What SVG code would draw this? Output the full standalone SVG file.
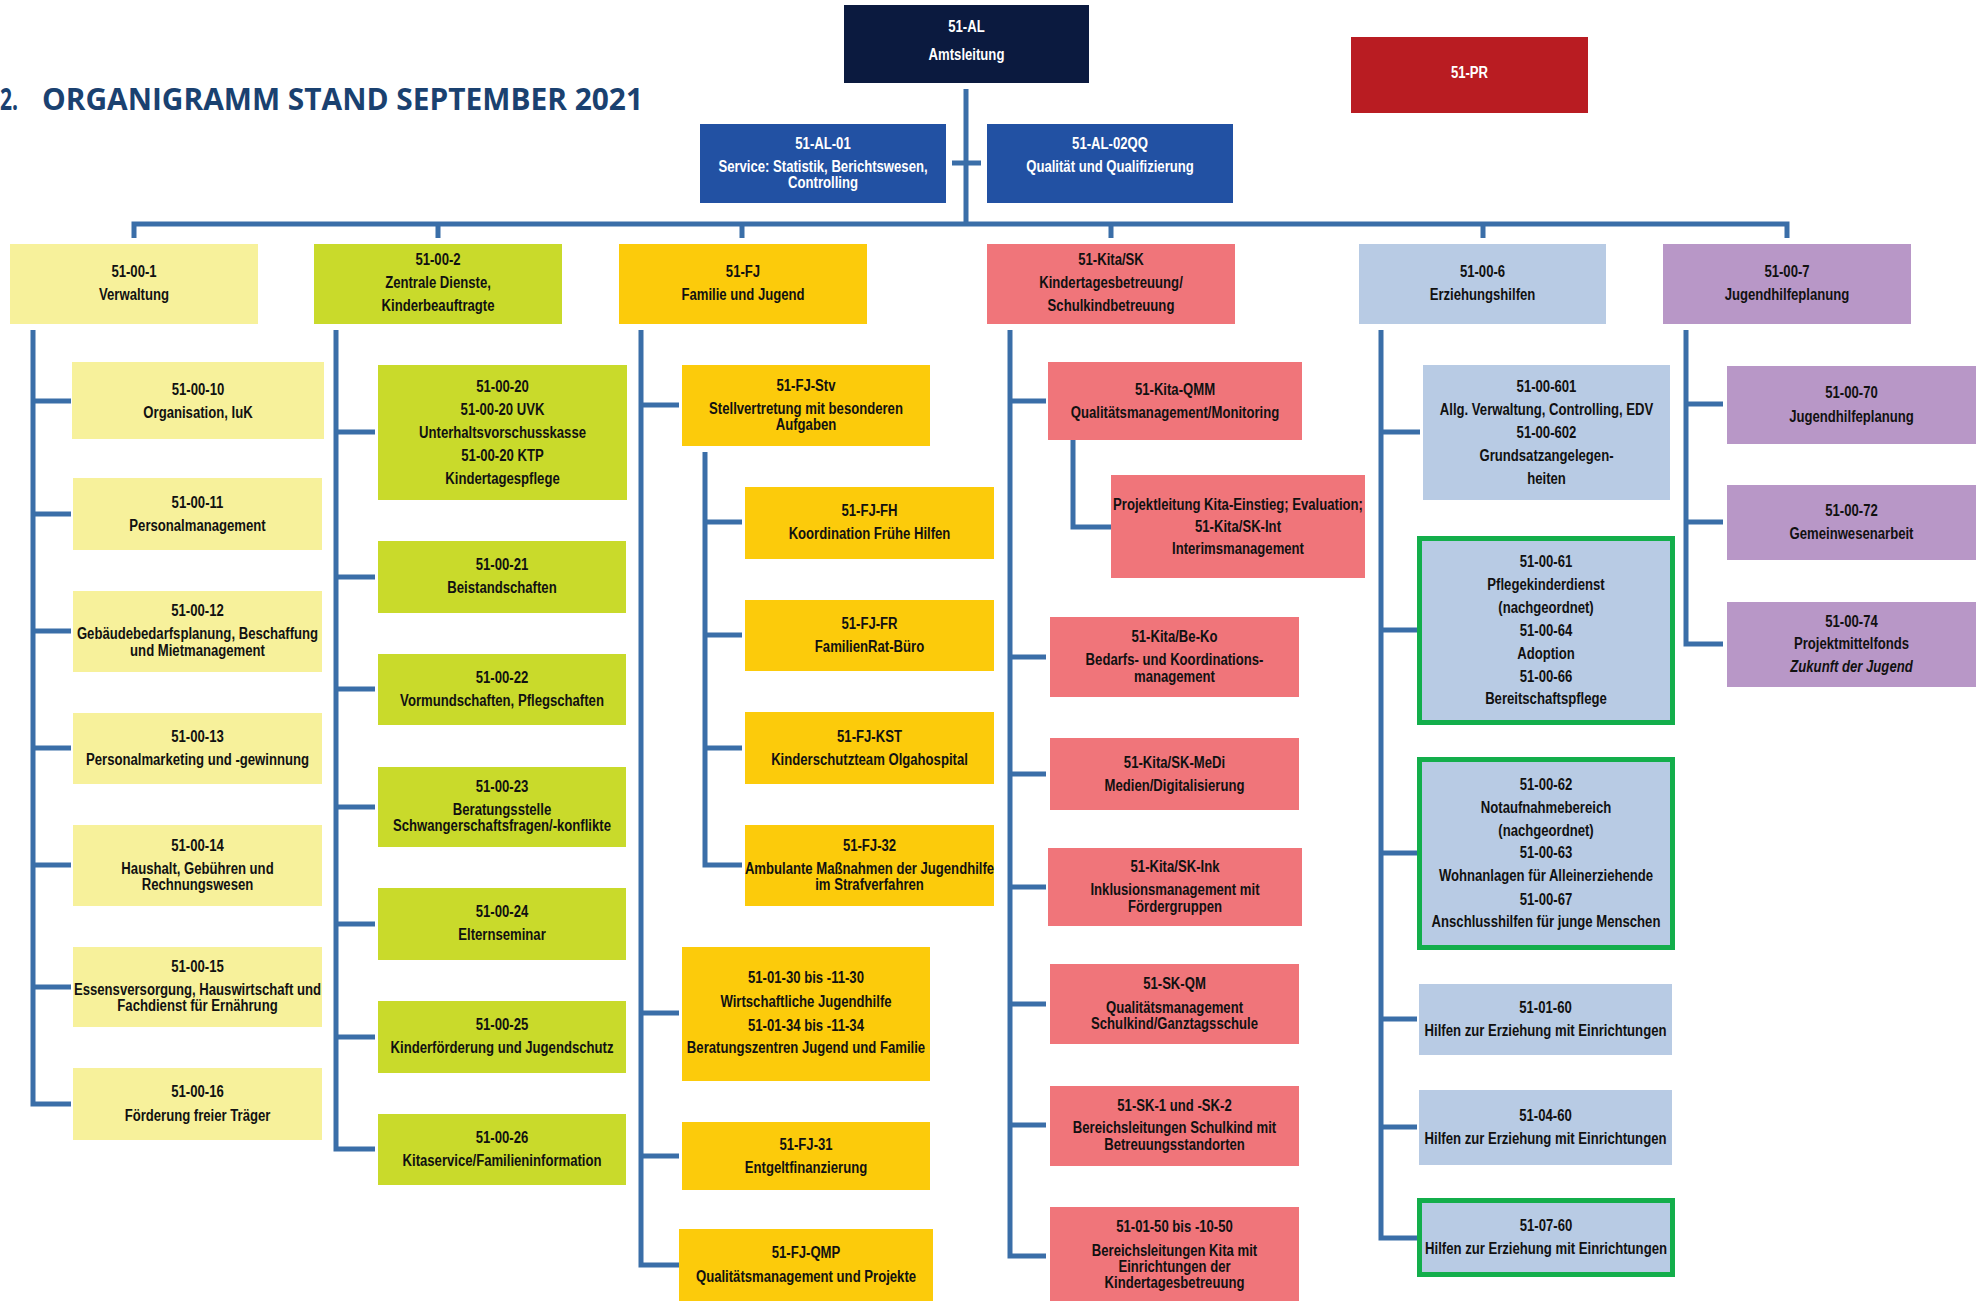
<svg xmlns="http://www.w3.org/2000/svg" width="1979" height="1301" viewBox="0 0 1979 1301">
<style>
.t{font-family:"Liberation Sans",Arial,sans-serif;font-weight:bold;font-size:16px;text-anchor:middle;fill:#111}
.w{fill:#fff}
.i{font-style:italic}
.con{fill:none;stroke:#3A6EA8;stroke-width:5}
.al{fill:#0B1A3F}
.blu{fill:#2251A3}
.pr{fill:#B91C22}
.ly{fill:#F7F19B}
.lm{fill:#C9DA2B}
.gd{fill:#FCCB0B}
.pk{fill:#F0757A}
.lb{fill:#B8CBE4}
.pu{fill:#B897C7}
.gr{fill:#B8CBE4;stroke:#13AE4B;stroke-width:5}
.title{font-family:"Open Sans","Liberation Sans",sans-serif;font-weight:bold;font-size:30px;fill:#1A4170}
</style>
<rect width="1979" height="1301" fill="#fff"/>
<text class="title" x="0" y="110" textLength="18" lengthAdjust="spacingAndGlyphs">2.</text>
<text class="title" x="42" y="110" textLength="601" lengthAdjust="spacingAndGlyphs">ORGANIGRAMM STAND SEPTEMBER 2021</text>

<g id="connectors">
<path class="con" d="M966,89V224M134,238V224H1787V238M438,224V238M742,224V238M1111,224V238M1483,224V238M952,163H981"/>
<path class="con" d="M33,330V1104H71M33,401H71M33,514H71M33,631H71M33,748H71M33,865H71M33,987H71"/>
<path class="con" d="M336,330V1149H375M336,432H375M336,577H375M336,689H375M336,807H375M336,924H375M336,1037H375"/>
<path class="con" d="M641,330V1265H679M641,405H679M641,1013H679M641,1156H679M705,452V865H742M705,522H742M705,635H742M705,748H742"/>
<path class="con" d="M1010,330V1256H1046M1010,401H1046M1010,657H1046M1010,774H1046M1010,887H1046M1010,1004H1046M1010,1125H1046M1073,440V527H1111"/>
<path class="con" d="M1381,330V1238H1417M1381,432H1420M1381,630H1417M1381,853H1417M1381,1019H1417M1381,1127H1417"/>
<path class="con" d="M1686,330V644H1723M1686,404H1723M1686,522H1723"/>
</g>

<g id="n-51-AL"><rect class="al" x="844" y="5" width="245" height="78"/>
<text class="t w" transform="matrix(0.82 0 0 1 966.5 0)"><tspan x="0" y="32">51-AL</tspan><tspan x="0" y="60">Amtsleitung</tspan></text></g>

<g id="n-51-PR"><rect class="pr" x="1351" y="37" width="237" height="76"/>
<text class="t w" transform="matrix(0.82 0 0 1 1469.5 0)"><tspan x="0" y="78">51-PR</tspan></text></g>

<g id="n-51-AL-01"><rect class="blu" x="700" y="124" width="246" height="79"/>
<text class="t w" transform="matrix(0.82 0 0 1 823 0)"><tspan x="0" y="149">51-AL-01</tspan><tspan x="0" y="172">Service: Statistik, Berichtswesen,</tspan><tspan x="0" y="188">Controlling</tspan></text></g>

<g id="n-51-AL-02QQ"><rect class="blu" x="987" y="124" width="246" height="79"/>
<text class="t w" transform="matrix(0.82 0 0 1 1110 0)"><tspan x="0" y="149">51-AL-02QQ</tspan><tspan x="0" y="172">Qualität und Qualifizierung</tspan></text></g>

<g id="n-51-00-1"><rect class="ly" x="10" y="244" width="248" height="80"/>
<text class="t" transform="matrix(0.82 0 0 1 134 0)"><tspan x="0" y="277">51-00-1</tspan><tspan x="0" y="300">Verwaltung</tspan></text></g>

<g id="n-51-00-2"><rect class="lm" x="314" y="244" width="248" height="80"/>
<text class="t" transform="matrix(0.82 0 0 1 438 0)"><tspan x="0" y="265">51-00-2</tspan><tspan x="0" y="288">Zentrale Dienste,</tspan><tspan x="0" y="311">Kinderbeauftragte</tspan></text></g>

<g id="n-51-FJ"><rect class="gd" x="619" y="244" width="248" height="80"/>
<text class="t" transform="matrix(0.82 0 0 1 743 0)"><tspan x="0" y="277">51-FJ</tspan><tspan x="0" y="300">Familie und Jugend</tspan></text></g>

<g id="n-51-Kita-SK"><rect class="pk" x="987" y="244" width="248" height="80"/>
<text class="t" transform="matrix(0.82 0 0 1 1111 0)"><tspan x="0" y="265">51-Kita/SK</tspan><tspan x="0" y="288">Kindertagesbetreuung/</tspan><tspan x="0" y="311">Schulkindbetreuung</tspan></text></g>

<g id="n-51-00-6"><rect class="lb" x="1359" y="244" width="247" height="80"/>
<text class="t" transform="matrix(0.82 0 0 1 1482.5 0)"><tspan x="0" y="277">51-00-6</tspan><tspan x="0" y="300">Erziehungshilfen</tspan></text></g>

<g id="n-51-00-7"><rect class="pu" x="1663" y="244" width="248" height="80"/>
<text class="t" transform="matrix(0.82 0 0 1 1787 0)"><tspan x="0" y="277">51-00-7</tspan><tspan x="0" y="300">Jugendhilfeplanung</tspan></text></g>

<!-- column 1 -->
<g id="n-51-00-10"><rect class="ly" x="72" y="362" width="252" height="77"/>
<text class="t" transform="matrix(0.82 0 0 1 198 0)"><tspan x="0" y="395">51-00-10</tspan><tspan x="0" y="418">Organisation, IuK</tspan></text></g>
<g id="n-51-00-11"><rect class="ly" x="73" y="478" width="249" height="72"/>
<text class="t" transform="matrix(0.82 0 0 1 197.5 0)"><tspan x="0" y="508">51-00-11</tspan><tspan x="0" y="531">Personalmanagement</tspan></text></g>
<g id="n-51-00-12"><rect class="ly" x="73" y="591" width="249" height="81"/>
<text class="t" transform="matrix(0.82 0 0 1 197.5 0)"><tspan x="0" y="616">51-00-12</tspan><tspan x="0" y="639">Gebäudebedarfsplanung, Beschaffung</tspan><tspan x="0" y="656">und Mietmanagement</tspan></text></g>
<g id="n-51-00-13"><rect class="ly" x="73" y="713" width="249" height="71"/>
<text class="t" transform="matrix(0.82 0 0 1 197.5 0)"><tspan x="0" y="742">51-00-13</tspan><tspan x="0" y="765">Personalmarketing und -gewinnung</tspan></text></g>
<g id="n-51-00-14"><rect class="ly" x="73" y="825" width="249" height="81"/>
<text class="t" transform="matrix(0.82 0 0 1 197.5 0)"><tspan x="0" y="851">51-00-14</tspan><tspan x="0" y="874">Haushalt, Gebühren und</tspan><tspan x="0" y="890">Rechnungswesen</tspan></text></g>
<g id="n-51-00-15"><rect class="ly" x="73" y="947" width="249" height="80"/>
<text class="t" transform="matrix(0.82 0 0 1 197.5 0)"><tspan x="0" y="972">51-00-15</tspan><tspan x="0" y="995">Essensversorgung, Hauswirtschaft und</tspan><tspan x="0" y="1011">Fachdienst für Ernährung</tspan></text></g>
<g id="n-51-00-16"><rect class="ly" x="73" y="1068" width="249" height="72"/>
<text class="t" transform="matrix(0.82 0 0 1 197.5 0)"><tspan x="0" y="1097">51-00-16</tspan><tspan x="0" y="1121">Förderung freier Träger</tspan></text></g>

<!-- column 2 -->
<g id="n-51-00-20"><rect class="lm" x="378" y="365" width="249" height="135"/>
<text class="t" transform="matrix(0.82 0 0 1 502.5 0)"><tspan x="0" y="392">51-00-20</tspan><tspan x="0" y="415">51-00-20 UVK</tspan><tspan x="0" y="438">Unterhaltsvorschusskasse</tspan><tspan x="0" y="461">51-00-20 KTP</tspan><tspan x="0" y="484">Kindertagespflege</tspan></text></g>
<g id="n-51-00-21"><rect class="lm" x="378" y="541" width="248" height="72"/>
<text class="t" transform="matrix(0.82 0 0 1 502 0)"><tspan x="0" y="570">51-00-21</tspan><tspan x="0" y="593">Beistandschaften</tspan></text></g>
<g id="n-51-00-22"><rect class="lm" x="378" y="654" width="248" height="71"/>
<text class="t" transform="matrix(0.82 0 0 1 502 0)"><tspan x="0" y="683">51-00-22</tspan><tspan x="0" y="706">Vormundschaften, Pflegschaften</tspan></text></g>
<g id="n-51-00-23"><rect class="lm" x="378" y="767" width="248" height="80"/>
<text class="t" transform="matrix(0.82 0 0 1 502 0)"><tspan x="0" y="792">51-00-23</tspan><tspan x="0" y="815">Beratungsstelle</tspan><tspan x="0" y="831">Schwangerschaftsfragen/-konflikte</tspan></text></g>
<g id="n-51-00-24"><rect class="lm" x="378" y="888" width="248" height="72"/>
<text class="t" transform="matrix(0.82 0 0 1 502 0)"><tspan x="0" y="917">51-00-24</tspan><tspan x="0" y="940">Elternseminar</tspan></text></g>
<g id="n-51-00-25"><rect class="lm" x="378" y="1001" width="248" height="72"/>
<text class="t" transform="matrix(0.82 0 0 1 502 0)"><tspan x="0" y="1030">51-00-25</tspan><tspan x="0" y="1053">Kinderförderung und Jugendschutz</tspan></text></g>
<g id="n-51-00-26"><rect class="lm" x="378" y="1114" width="248" height="71"/>
<text class="t" transform="matrix(0.82 0 0 1 502 0)"><tspan x="0" y="1143">51-00-26</tspan><tspan x="0" y="1166">Kitaservice/Familieninformation</tspan></text></g>

<!-- column 3 -->
<g id="n-51-FJ-Stv"><rect class="gd" x="682" y="365" width="248" height="81"/>
<text class="t" transform="matrix(0.82 0 0 1 806 0)"><tspan x="0" y="391">51-FJ-Stv</tspan><tspan x="0" y="414">Stellvertretung mit besonderen</tspan><tspan x="0" y="430">Aufgaben</tspan></text></g>
<g id="n-51-FJ-FH"><rect class="gd" x="745" y="487" width="249" height="72"/>
<text class="t" transform="matrix(0.82 0 0 1 869.5 0)"><tspan x="0" y="516">51-FJ-FH</tspan><tspan x="0" y="539">Koordination Frühe Hilfen</tspan></text></g>
<g id="n-51-FJ-FR"><rect class="gd" x="745" y="600" width="249" height="71"/>
<text class="t" transform="matrix(0.82 0 0 1 869.5 0)"><tspan x="0" y="629">51-FJ-FR</tspan><tspan x="0" y="652">FamilienRat-Büro</tspan></text></g>
<g id="n-51-FJ-KST"><rect class="gd" x="745" y="712" width="249" height="72"/>
<text class="t" transform="matrix(0.82 0 0 1 869.5 0)"><tspan x="0" y="742">51-FJ-KST</tspan><tspan x="0" y="765">Kinderschutzteam Olgahospital</tspan></text></g>
<g id="n-51-FJ-32"><rect class="gd" x="745" y="825" width="249" height="81"/>
<text class="t" transform="matrix(0.82 0 0 1 869.5 0)"><tspan x="0" y="851">51-FJ-32</tspan><tspan x="0" y="874">Ambulante Maßnahmen der Jugendhilfe</tspan><tspan x="0" y="890">im Strafverfahren</tspan></text></g>
<g id="n-51-01-30"><rect class="gd" x="682" y="947" width="248" height="134"/>
<text class="t" transform="matrix(0.82 0 0 1 806 0)"><tspan x="0" y="983">51-01-30 bis -11-30</tspan><tspan x="0" y="1007">Wirtschaftliche Jugendhilfe</tspan><tspan x="0" y="1031">51-01-34 bis -11-34</tspan><tspan x="0" y="1053">Beratungszentren Jugend und Familie</tspan></text></g>
<g id="n-51-FJ-31"><rect class="gd" x="682" y="1122" width="248" height="68"/>
<text class="t" transform="matrix(0.82 0 0 1 806 0)"><tspan x="0" y="1150">51-FJ-31</tspan><tspan x="0" y="1173">Entgeltfinanzierung</tspan></text></g>
<g id="n-51-FJ-QMP"><rect class="gd" x="679" y="1229" width="254" height="72"/>
<text class="t" transform="matrix(0.82 0 0 1 806 0)"><tspan x="0" y="1258">51-FJ-QMP</tspan><tspan x="0" y="1282">Qualitätsmanagement und Projekte</tspan></text></g>

<!-- column 4 -->
<g id="n-51-Kita-QMM"><rect class="pk" x="1048" y="362" width="254" height="78"/>
<text class="t" transform="matrix(0.82 0 0 1 1175 0)"><tspan x="0" y="395">51-Kita-QMM</tspan><tspan x="0" y="418">Qualitätsmanagement/Monitoring</tspan></text></g>
<g id="n-51-Kita-SK-Int"><rect class="pk" x="1111" y="475" width="254" height="103"/>
<text class="t" transform="matrix(0.82 0 0 1 1238 0)"><tspan x="0" y="510">Projektleitung Kita-Einstieg; Evaluation;</tspan><tspan x="0" y="532">51-Kita/SK-Int</tspan><tspan x="0" y="554">Interimsmanagement</tspan></text></g>
<g id="n-51-Kita-Be-Ko"><rect class="pk" x="1050" y="617" width="249" height="80"/>
<text class="t" transform="matrix(0.82 0 0 1 1174.5 0)"><tspan x="0" y="642">51-Kita/Be-Ko</tspan><tspan x="0" y="665">Bedarfs- und Koordinations-</tspan><tspan x="0" y="682">management</tspan></text></g>
<g id="n-51-Kita-SK-MeDi"><rect class="pk" x="1050" y="738" width="249" height="72"/>
<text class="t" transform="matrix(0.82 0 0 1 1174.5 0)"><tspan x="0" y="768">51-Kita/SK-MeDi</tspan><tspan x="0" y="791">Medien/Digitalisierung</tspan></text></g>
<g id="n-51-Kita-SK-Ink"><rect class="pk" x="1048" y="848" width="254" height="78"/>
<text class="t" transform="matrix(0.82 0 0 1 1175 0)"><tspan x="0" y="872">51-Kita/SK-Ink</tspan><tspan x="0" y="895">Inklusionsmanagement mit</tspan><tspan x="0" y="912">Fördergruppen</tspan></text></g>
<g id="n-51-SK-QM"><rect class="pk" x="1050" y="964" width="249" height="80"/>
<text class="t" transform="matrix(0.82 0 0 1 1174.5 0)"><tspan x="0" y="989">51-SK-QM</tspan><tspan x="0" y="1013">Qualitätsmanagement</tspan><tspan x="0" y="1029">Schulkind/Ganztagsschule</tspan></text></g>
<g id="n-51-SK-1-2"><rect class="pk" x="1050" y="1086" width="249" height="80"/>
<text class="t" transform="matrix(0.82 0 0 1 1174.5 0)"><tspan x="0" y="1111">51-SK-1 und -SK-2</tspan><tspan x="0" y="1133">Bereichsleitungen Schulkind mit</tspan><tspan x="0" y="1150">Betreuungsstandorten</tspan></text></g>
<g id="n-51-01-50"><rect class="pk" x="1050" y="1207" width="249" height="94"/>
<text class="t" transform="matrix(0.82 0 0 1 1174.5 0)"><tspan x="0" y="1232">51-01-50 bis -10-50</tspan><tspan x="0" y="1256">Bereichsleitungen Kita mit</tspan><tspan x="0" y="1272">Einrichtungen der</tspan><tspan x="0" y="1288">Kindertagesbetreuung</tspan></text></g>

<!-- column 5 -->
<g id="n-51-00-601"><rect class="lb" x="1423" y="365" width="247" height="135"/>
<text class="t" transform="matrix(0.82 0 0 1 1546.5 0)"><tspan x="0" y="392">51-00-601</tspan><tspan x="0" y="415">Allg. Verwaltung, Controlling, EDV</tspan><tspan x="0" y="438">51-00-602</tspan><tspan x="0" y="461">Grundsatzangelegen-</tspan><tspan x="0" y="484">heiten</tspan></text></g>
<g id="n-51-00-61"><rect class="gr" x="1419.5" y="538.5" width="253" height="184"/>
<text class="t" transform="matrix(0.82 0 0 1 1546 0)"><tspan x="0" y="567">51-00-61</tspan><tspan x="0" y="590">Pflegekinderdienst</tspan><tspan x="0" y="613">(nachgeordnet)</tspan><tspan x="0" y="636">51-00-64</tspan><tspan x="0" y="659">Adoption</tspan><tspan x="0" y="682">51-00-66</tspan><tspan x="0" y="704">Bereitschaftspflege</tspan></text></g>
<g id="n-51-00-62"><rect class="gr" x="1419.5" y="759.5" width="253" height="188"/>
<text class="t" transform="matrix(0.82 0 0 1 1546 0)"><tspan x="0" y="790">51-00-62</tspan><tspan x="0" y="813">Notaufnahmebereich</tspan><tspan x="0" y="836">(nachgeordnet)</tspan><tspan x="0" y="858">51-00-63</tspan><tspan x="0" y="881">Wohnanlagen für Alleinerziehende</tspan><tspan x="0" y="905">51-00-67</tspan><tspan x="0" y="927">Anschlusshilfen für junge Menschen</tspan></text></g>
<g id="n-51-01-60"><rect class="lb" x="1419" y="984" width="253" height="71"/>
<text class="t" transform="matrix(0.82 0 0 1 1545.5 0)"><tspan x="0" y="1013">51-01-60</tspan><tspan x="0" y="1036">Hilfen zur Erziehung mit Einrichtungen</tspan></text></g>
<g id="n-51-04-60"><rect class="lb" x="1419" y="1090" width="253" height="75"/>
<text class="t" transform="matrix(0.82 0 0 1 1545.5 0)"><tspan x="0" y="1121">51-04-60</tspan><tspan x="0" y="1144">Hilfen zur Erziehung mit Einrichtungen</tspan></text></g>
<g id="n-51-07-60"><rect class="gr" x="1419.5" y="1200.5" width="253" height="74"/>
<text class="t" transform="matrix(0.82 0 0 1 1546 0)"><tspan x="0" y="1231">51-07-60</tspan><tspan x="0" y="1254">Hilfen zur Erziehung mit Einrichtungen</tspan></text></g>

<!-- column 6 -->
<g id="n-51-00-70"><rect class="pu" x="1727" y="366" width="249" height="78"/>
<text class="t" transform="matrix(0.82 0 0 1 1851.5 0)"><tspan x="0" y="398">51-00-70</tspan><tspan x="0" y="422">Jugendhilfeplanung</tspan></text></g>
<g id="n-51-00-72"><rect class="pu" x="1727" y="485" width="249" height="75"/>
<text class="t" transform="matrix(0.82 0 0 1 1851.5 0)"><tspan x="0" y="516">51-00-72</tspan><tspan x="0" y="539">Gemeinwesenarbeit</tspan></text></g>
<g id="n-51-00-74"><rect class="pu" x="1727" y="602" width="249" height="85"/>
<text class="t" transform="matrix(0.82 0 0 1 1851.5 0)"><tspan x="0" y="627">51-00-74</tspan><tspan x="0" y="649">Projektmittelfonds</tspan><tspan class="i" x="0" y="672">Zukunft der Jugend</tspan></text></g>
</svg>
